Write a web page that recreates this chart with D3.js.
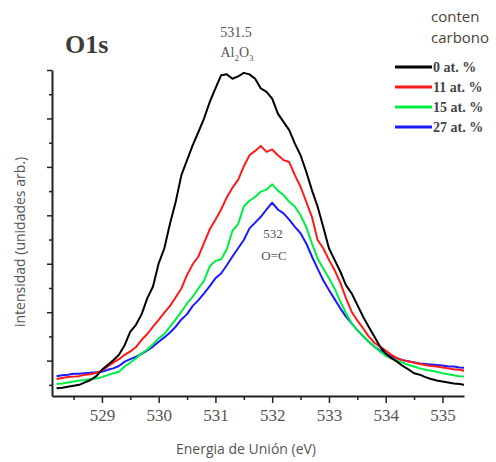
<!DOCTYPE html>
<html>
<head>
<meta charset="utf-8">
<script src="https://cdn.jsdelivr.net/npm/d3@7"></script>
<style>
  body { margin: 0; background: #fff; }
  svg { display: block; }
</style>
</head>
<body>
<script>
// binding energy grid (eV)
var energy = [528.2,528.3,528.4,528.5,528.6,528.7,528.8,528.9,529.0,529.1,529.2,529.3,529.4,529.5,529.6,529.7,529.8,529.9,
  530.0,530.1,530.2,530.3,530.4,530.5,530.6,530.7,530.8,530.9,531.0,531.1,531.2,531.3,531.4,531.5,531.6,531.7,531.8,531.9,
  532.0,532.1,532.2,532.3,532.4,532.5,532.6,532.7,532.8,532.9,533.0,533.1,533.2,533.3,533.4,533.5,533.6,533.7,533.8,533.9,
  534.0,534.1,534.2,534.3,534.4,534.5,534.6,534.7,534.8,534.9,535.0,535.1,535.2,535.3,535.4];

// intensity, arbitrary units
var c0 = [0.43,0.44,0.46,0.48,0.50,0.55,0.60,0.68,0.81,0.91,1.01,1.12,1.32,1.60,1.74,1.96,2.29,2.53,
  3.01,3.32,3.83,4.28,4.83,5.14,5.45,5.72,6.00,6.34,6.62,6.89,6.91,6.82,6.87,6.94,6.91,6.82,6.62,6.55,
  6.41,6.10,5.93,5.76,5.48,5.24,4.90,4.52,4.18,3.76,3.32,3.08,2.84,2.56,2.39,2.15,1.91,1.70,1.50,1.29,
  1.15,1.05,0.98,0.89,0.82,0.74,0.71,0.66,0.62,0.59,0.57,0.55,0.53,0.52,0.50];
var c11 = [0.62,0.64,0.66,0.67,0.68,0.71,0.72,0.75,0.79,0.88,0.96,1.03,1.12,1.19,1.28,1.43,1.55,1.70,
  1.84,1.99,2.13,2.31,2.49,2.77,2.99,3.15,3.43,3.71,3.91,4.12,4.37,4.57,4.73,5.01,5.24,5.33,5.43,5.31,
  5.36,5.24,5.14,5.10,4.83,4.59,4.28,3.97,3.49,3.32,3.08,2.87,2.61,2.29,2.01,1.83,1.67,1.50,1.37,1.29,
  1.21,1.12,1.05,1.01,0.98,0.96,0.93,0.91,0.89,0.88,0.86,0.84,0.82,0.81,0.79];
var c15 = [0.52,0.53,0.55,0.57,0.59,0.60,0.62,0.63,0.66,0.70,0.74,0.77,0.88,0.96,1.05,1.15,1.23,1.34,
  1.46,1.55,1.70,1.85,2.01,2.18,2.32,2.49,2.65,2.95,3.06,3.09,3.30,3.68,3.82,4.18,4.30,4.38,4.49,4.53,
  4.64,4.51,4.42,4.28,4.18,4.00,3.76,3.42,3.11,2.90,2.70,2.49,2.22,1.98,1.77,1.63,1.51,1.39,1.29,1.19,
  1.10,1.05,1.00,0.96,0.91,0.88,0.84,0.81,0.79,0.77,0.74,0.72,0.70,0.68,0.67];
var c27 = [0.68,0.70,0.71,0.73,0.73,0.74,0.75,0.76,0.77,0.81,0.84,0.89,0.98,1.03,1.08,1.14,1.21,1.29,
  1.39,1.48,1.58,1.70,1.85,1.96,2.13,2.25,2.39,2.54,2.70,2.80,2.97,3.15,3.32,3.49,3.73,3.85,3.97,4.12,
  4.26,4.12,4.04,3.91,3.76,3.63,3.42,3.15,2.90,2.66,2.46,2.27,2.08,1.91,1.77,1.63,1.51,1.39,1.29,1.21,
  1.14,1.08,1.05,1.01,0.99,0.96,0.94,0.93,0.92,0.91,0.90,0.88,0.88,0.86,0.85];

var seriesNames = ["0 at. %", "11 at. %", "15 at. %", "27 at. %"];
var seriesColors = ["#000000", "#ff1a1a", "#00ee44", "#1a1aff"];
var xTicks = [529, 530, 531, 532, 533, 534, 535];
var xMinor = [528.5, 529.5, 530.5, 531.5, 532.5, 533.5, 534.5];
var yTicks = [1, 2, 3, 4, 5, 6, 7];
var yMinor = [0.5, 1.5, 2.5, 3.5, 4.5, 5.5, 6.5];

var W = 496, H = 462;
var margin = {top: 70, right: 32, bottom: 66, left: 52};
var width = W - margin.left - margin.right;
var height = H - margin.top - margin.bottom;

var svg = d3.select("body").append("svg")
  .attr("width", W)
  .attr("height", H);

var g = svg.append("g")
  .attr("transform", "translate(" + margin.left + "," + margin.top + ")");

var x = d3.scaleLinear().domain([528.12, 535.38]).range([0, width]);
var y = d3.scaleLinear().domain([0.27, 7.0]).range([height, 0]);

svg.append("defs").append("clipPath").attr("id", "plot")
  .append("rect").attr("x", 0).attr("y", -10).attr("width", width).attr("height", height + 10);

// curves
var data = [c0, c11, c15, c27];
var line = d3.line()
  .x(function(d, i) { return x(energy[i]); })
  .y(function(d) { return y(d); });

g.append("g").attr("clip-path", "url(#plot)")
  .selectAll("path")
  .data(data.slice().reverse())
  .enter()
  .append("path")
  .attr("d", line)
  .attr("fill", "none")
  .attr("stroke", function(d, i) { return seriesColors[3 - i]; })
  .attr("stroke-width", 2)
  .attr("stroke-linejoin", "round");

// axes
var axisColor = "#222";
var xAxis = g.append("g")
  .attr("transform", "translate(0," + height + ")")
  .call(d3.axisBottom(x).tickValues(xTicks).tickSize(7).tickSizeOuter(0).tickPadding(6).tickFormat(d3.format("d")));
g.append("g")
  .attr("transform", "translate(0," + height + ")")
  .call(d3.axisBottom(x).tickValues(xMinor).tickSize(4).tickFormat(""))
  .select(".domain").remove();

var yAxis = g.append("g")
  .call(d3.axisLeft(y).tickValues(yTicks).tickSize(5).tickSizeOuter(0).tickFormat(""));
g.append("g")
  .call(d3.axisLeft(y).tickValues(yMinor).tickSize(3).tickFormat(""))
  .select(".domain").remove();

g.selectAll(".domain").attr("stroke", axisColor).attr("stroke-width", 2);
g.selectAll(".tick line").attr("stroke", axisColor).attr("stroke-width", 1.5);
xAxis.selectAll(".tick text")
  .attr("font-family", "Liberation Serif, serif")
  .attr("font-size", "17px")
  .attr("fill", "#555");

// axis labels
svg.append("text")
  .attr("x", 246)
  .attr("y", 454)
  .attr("text-anchor", "middle")
  .attr("font-family", "Open Sans, sans-serif")
  .attr("font-size", "14px")
  .attr("fill", "#555")
  .text("Energia de Unión (eV)");

svg.append("text")
  .attr("transform", "translate(25,242) rotate(-90)")
  .attr("text-anchor", "middle")
  .attr("font-family", "Open Sans, sans-serif")
  .attr("font-size", "14px")
  .attr("fill", "#555")
  .text("intensidad (unidades arb.)");

// title
svg.append("text")
  .attr("x", 65)
  .attr("y", 53)
  .attr("font-family", "Liberation Serif, serif")
  .attr("font-weight", "bold")
  .attr("font-size", "26px")
  .attr("fill", "#3d3a3a")
  .text("O1s");

// peak annotations
var annot = svg.append("g")
  .attr("font-family", "Liberation Serif, serif")
  .attr("fill", "#555")
  .attr("text-anchor", "middle");
annot.append("text").attr("x", 236).attr("y", 37).attr("font-size", "14px").text("531.5");
var al = annot.append("text").attr("x", 237).attr("y", 57).attr("font-size", "14px");
al.append("tspan").text("Al");
al.append("tspan").attr("font-size", "9px").attr("dy", 4).text("2");
al.append("tspan").attr("dy", -4).text("O");
al.append("tspan").attr("font-size", "9px").attr("dy", 4).text("3");
annot.append("text").attr("x", 273).attr("y", 238).attr("font-size", "13px").text("532");
annot.append("text").attr("x", 274).attr("y", 260).attr("font-size", "13px").text("O=C");

// legend
var legend = svg.append("g");
legend.append("text")
  .attr("x", 431).attr("y", 22)
  .attr("font-family", "Open Sans, sans-serif")
  .attr("font-size", "15px")
  .attr("fill", "#4d4238")
  .text("conten");
legend.append("text")
  .attr("x", 431).attr("y", 43)
  .attr("font-family", "Open Sans, sans-serif")
  .attr("font-size", "15px")
  .attr("fill", "#4d4238")
  .text("carbono");

var items = legend.selectAll("g.item")
  .data(seriesNames)
  .enter()
  .append("g")
  .attr("class", "item")
  .attr("transform", function(d, i) { return "translate(395," + (67 + i * 20) + ")"; });
items.append("line")
  .attr("x1", 0).attr("x2", 37)
  .attr("stroke", function(d, i) { return seriesColors[i]; })
  .attr("stroke-width", 3);
items.append("text")
  .attr("x", 38).attr("y", 5)
  .attr("font-family", "Liberation Serif, serif")
  .attr("font-weight", "bold")
  .attr("font-size", "14px")
  .attr("fill", "#444")
  .text(function(d) { return d; });
</script>
</body>
</html>
